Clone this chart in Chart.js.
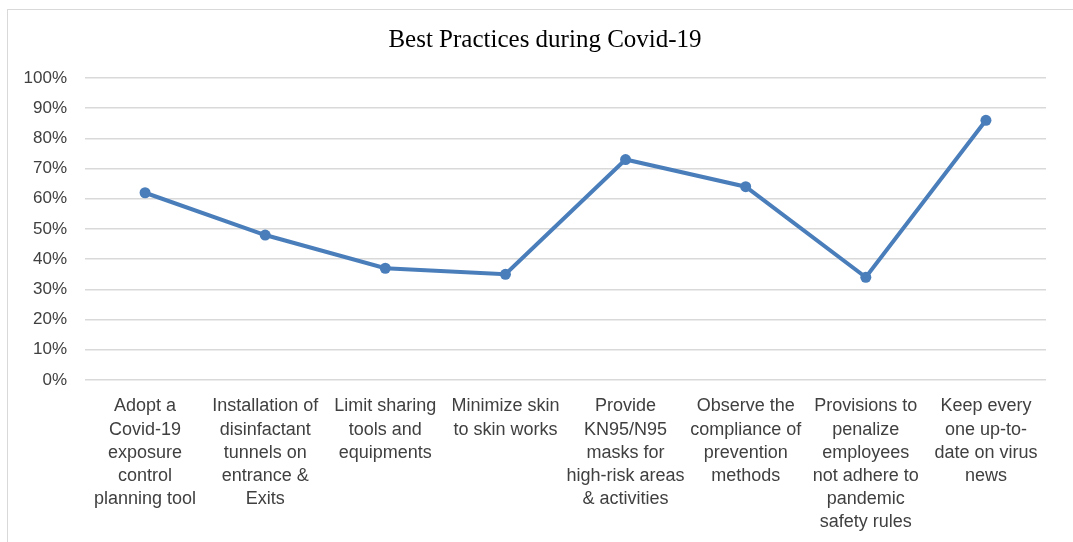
<!DOCTYPE html>
<html>
<head>
<meta charset="utf-8">
<script src="https://cdn.jsdelivr.net/npm/chart.js@4"></script>
<style>
    html, body { margin: 0; padding: 0; background: #ffffff; }
    #wrap { position: relative; width: 1073px; height: 542px; }
    #frame { position: absolute; left: 7px; top: 9px; width: 1080px; height: 600px; border: 1px solid #d9d9d9; box-sizing: border-box; }
    canvas { position: absolute; left: 0; top: 0; }
</style>
</head>
<body>
<div id="wrap">
    <div id="frame"></div>
    <canvas id="practiceChart" width="1073" height="542"></canvas>
</div>
<script>
const chartTitle = 'Best Practices during Covid-19';
const categories = [
    ['Adopt a', 'Covid-19', 'exposure', 'control', 'planning tool'],
    ['Installation of', 'disinfactant', 'tunnels on', 'entrance &', 'Exits'],
    ['Limit sharing', 'tools and', 'equipments'],
    ['Minimize skin', 'to skin works'],
    ['Provide', 'KN95/N95', 'masks for', 'high-risk areas', '& activities'],
    ['Observe the', 'compliance of', 'prevention', 'methods'],
    ['Provisions to', 'penalize', 'employees', 'not adhere to', 'pandemic', 'safety rules'],
    ['Keep every', 'one up-to-', 'date on virus', 'news']
];
const practiceValues = [0.62, 0.48, 0.37, 0.35, 0.73, 0.64, 0.34, 0.86];
const yTicks = [0, 0.1, 0.2, 0.3, 0.4, 0.5, 0.6, 0.7, 0.8, 0.9, 1.0];

// title sits a bit right of the canvas centre in the original, so draw it ourselves
const titlePlugin = {
    id: 'offsetTitle',
    afterDraw(chart) {
        const c = chart.ctx;
        c.save();
        c.font = "25px 'Liberation Serif', 'Times New Roman', serif";
        c.fillStyle = '#000000';
        c.textAlign = 'center';
        c.textBaseline = 'middle';
        c.fillText(chartTitle, 545, 40);
        c.restore();
    }
};

const ctx = document.getElementById('practiceChart').getContext('2d');
new Chart(ctx, {
    type: 'line',
    data: {
        labels: categories,
        datasets: [{
            label: 'Best Practices',
            data: practiceValues,
            borderColor: '#4a7ebb',
            backgroundColor: '#4a7ebb',
            borderWidth: 4,
            pointRadius: 5.5,
            pointBorderWidth: 0,
            tension: 0
        }]
    },
    options: {
        responsive: false,
        animation: false,
        layout: { padding: { left: 7, right: 27, top: 78, bottom: 0 } },
        plugins: {
            legend: { display: false },
            tooltip: { enabled: false },
            title: { display: false }
        },
        scales: {
            y: {
                min: 0,
                max: 1,
                afterFit: (scale) => { scale.width = 78; },
                afterBuildTicks: (scale) => { scale.ticks = yTicks.map(v => ({ value: v })); },
                border: { display: false },
                grid: { color: '#d9d9d9', lineWidth: 1.5, drawTicks: false },
                ticks: {
                    padding: 18,
                    color: '#404040',
                    font: { family: "'Liberation Sans', Arial, sans-serif", size: 17 },
                    callback: (v) => Math.round(v * 100) + '%'
                }
            },
            x: {
                offset: true,
                afterFit: (scale) => { scale.height = 162; },
                border: { display: false },
                grid: { display: false },
                ticks: {
                    autoSkip: false,
                    maxRotation: 0,
                    minRotation: 0,
                    padding: 7,
                    color: '#404040',
                    font: { family: "'Liberation Sans', Arial, sans-serif", size: 18, lineHeight: 1.28 }
                }
            }
        }
    },
    plugins: [titlePlugin]
});
</script>
</body>
</html>
